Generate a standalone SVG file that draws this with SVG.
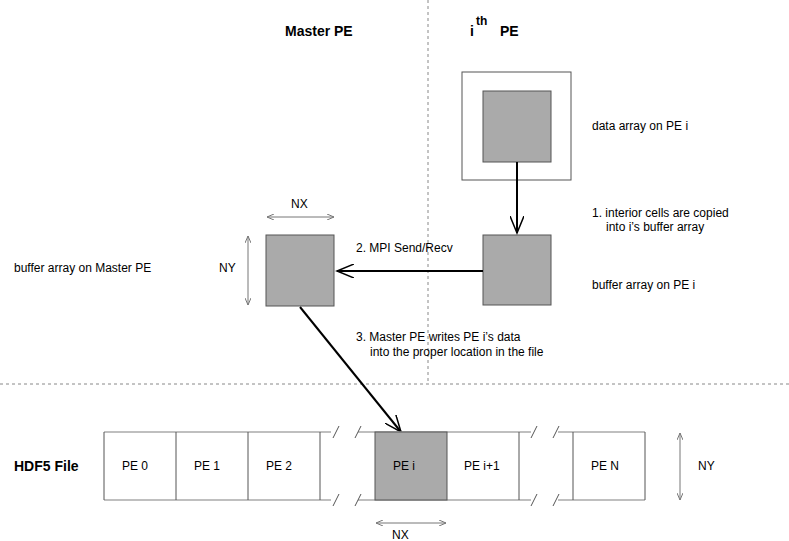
<svg xmlns="http://www.w3.org/2000/svg" width="789" height="541" viewBox="0 0 789 541">
<defs>
<marker id="ah" markerWidth="20" markerHeight="14" refX="17" refY="7" orient="auto" markerUnits="userSpaceOnUse"><path d="M0,0 L17,7 L0,14" fill="none" stroke="#000" stroke-width="1.5"/></marker>
<marker id="sa" markerWidth="8" markerHeight="6" refX="7" refY="3" orient="auto-start-reverse" markerUnits="userSpaceOnUse"><path d="M0,0 L7,3 L0,6" fill="none" stroke="#777" stroke-width="1"/></marker>
</defs>
<style>
text{font-family:"Liberation Sans",Arial,sans-serif;font-size:12px;fill:#000}
.b{font-weight:bold;font-size:14px}
.g{fill:#aaa;stroke:#555;stroke-width:1}
.w{fill:#fff;stroke:#555;stroke-width:1}
.d{stroke:#888;stroke-dasharray:3,3;fill:none}
.e{stroke:#aaa;stroke-width:1.5;fill:none}
.s{stroke:#555;stroke-width:1;fill:none}
.dim{stroke:#777;stroke-width:1;fill:none;marker-start:url(#sa);marker-end:url(#sa)}
.c{stroke:#000;stroke-width:2;fill:none;marker-end:url(#ah)}
</style>
<rect width="789" height="541" fill="#fff"/>
<line class="d" x1="428" y1="0" x2="428" y2="384"/>
<line class="d" x1="0" y1="384" x2="789" y2="384"/>
<text class="b" x="285" y="36">Master PE</text>
<text class="b" x="470" y="36">i</text><text x="476" y="25" style="font-weight:bold;font-size:12px">th</text><text class="b" x="500" y="36">PE</text>
<g id="pe-data"><rect class="w" x="462" y="72" width="109" height="108"/><rect class="g" x="483" y="91" width="68" height="71"/><text x="592" y="130">data array on PE i</text></g>
<g id="pe-buffer"><rect class="g" x="483" y="235" width="68" height="70"/><text x="592" y="289">buffer array on PE i</text></g>
<g id="master-buffer"><rect class="g" x="266" y="235" width="68" height="71"/><text x="14" y="272">buffer array on Master PE</text><text x="219" y="272">NY</text><line class="dim" x1="248" y1="236" x2="248" y2="305"/><text x="291" y="208">NX</text><line class="dim" x1="267" y1="217" x2="334" y2="217"/></g>
<g id="labels"><text x="592" y="217">1. interior cells are copied</text><text x="606" y="231">into i’s buffer array</text><text x="356" y="252">2. MPI Send/Recv</text><text x="356" y="341">3. Master PE writes PE i’s data</text><text x="370" y="356">into the proper location in the file</text></g>
<g id="connectors"><line class="c" x1="517" y1="162" x2="517" y2="233"/><line class="c" x1="483" y1="271" x2="337" y2="271"/><line class="c" x1="300" y1="307" x2="401" y2="432"/></g>
<g id="file">
<text class="b" x="14" y="471">HDF5 File</text>
<path class="e" d="M104,432H331 M104,500H331 M358,432H531 M358,500H531 M558,432H645 M558,500H645"/>
<path class="s" d="M333,438L339,426 M355,438L361,426 M333,506L339,494 M355,506L361,494 M531,438L537,426 M553,438L559,426 M531,506L537,494 M553,506L559,494"/>
<path class="s" d="M104,432V500 M176,432V500 M248,432V500 M320,432V500 M519,432V500 M573,432V500 M645,432V500"/>
<rect class="g" x="375" y="432" width="72" height="68"/>
<text x="122" y="470">PE 0</text><text x="194" y="470">PE 1</text><text x="266" y="470">PE 2</text><text x="393" y="470">PE i</text><text x="464" y="470">PE i+1</text><text x="591" y="470">PE N</text>
<line class="dim" x1="680" y1="433" x2="680" y2="500"/><text x="698" y="470">NY</text>
<line class="dim" x1="376" y1="523" x2="446" y2="523"/><text x="392" y="539">NX</text>
</g>
</svg>
